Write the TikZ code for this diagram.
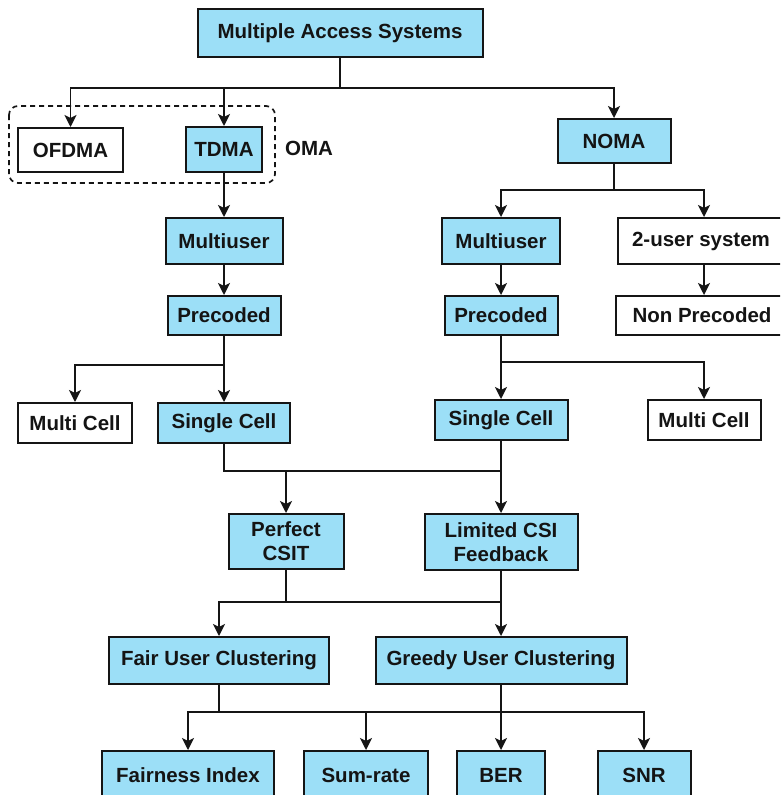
\documentclass[tikz,border=0pt]{standalone}
\usepackage{fontspec}
\setmainfont{Liberation Sans}
\usetikzlibrary{arrows.meta}
\definecolor{boxblue}{HTML}{9CDFF7}
\definecolor{edgecol}{HTML}{151515}
\tikzset{
  base/.style={draw=edgecol, line width=2pt, inner sep=0pt, align=center,
    font=\fontsize{20.5}{24}\selectfont\bfseries, text=black!92},
  bluebox/.style={base, fill=boxblue},
  whitebox/.style={base, fill=white},
  conn/.style={draw=edgecol, line width=1.8pt},
  arr/.style={conn, -{Stealth[length=12pt,width=12pt,inset=3pt]}},
}
\begin{document}
\begin{tikzpicture}[x=1pt,y=-1pt]
\useasboundingbox (0,0) rectangle (780,795);
\clip (0,0) rectangle (780,795);
\fill[white] (0,0) rectangle (780,795);

% nodes
\node[bluebox, minimum width=285pt, minimum height=48pt] (mas) at (340,33) {Multiple Access Systems};
\node[whitebox, minimum width=105pt, minimum height=44pt] (ofdma) at (70.5,150) {OFDMA};
\node[bluebox, minimum width=76pt, minimum height=45pt] (tdma) at (224,149.5) {TDMA};
\node[font=\fontsize{20.5}{24}\selectfont\bfseries, text=black!92] (oma) at (309,148) {OMA};
\node[bluebox, minimum width=113pt, minimum height=44pt] (noma) at (614,141) {NOMA};

\node[bluebox, minimum width=117pt, minimum height=46pt] (mu1) at (224,241) {Multiuser};
\node[bluebox, minimum width=113pt, minimum height=39pt] (pre1) at (224,315.5) {Precoded};
\node[whitebox, minimum width=114pt, minimum height=40pt] (mc1) at (75,423) {Multi Cell};
\node[bluebox, minimum width=132pt, minimum height=40pt] (sc1) at (224,423) {Single Cell};

\node[bluebox, minimum width=118pt, minimum height=46pt] (mu2) at (501,241) {Multiuser};
\node[whitebox, minimum width=172pt, minimum height=46pt] (two) at (704,241) {\hspace*{-6pt}2-user system};
\node[bluebox, minimum width=113pt, minimum height=39pt] (pre2) at (501,315.5) {Precoded};
\node[whitebox, minimum width=176pt, minimum height=39pt] (np) at (704,315.5) {\hspace*{-4pt}Non Precoded};
\node[bluebox, minimum width=133pt, minimum height=40pt] (sc2) at (501,420) {Single Cell};
\node[whitebox, minimum width=113pt, minimum height=40pt] (mc2) at (704,420) {Multi Cell};

\node[bluebox, minimum width=115pt, minimum height=55pt] (pcsit) at (286,541.5) {Perfect\\CSIT};
\node[bluebox, minimum width=153pt, minimum height=56pt] (lcsi) at (501,542) {Limited CSI\\Feedback};

\node[bluebox, minimum width=220pt, minimum height=47pt] (fair) at (219,660.5) {Fair User Clustering};
\node[bluebox, minimum width=251pt, minimum height=47pt] (greedy) at (501,660.5) {Greedy User Clustering};

\node[bluebox, minimum width=172pt, minimum height=48pt] (fi) at (188,775) {Fairness Index};
\node[bluebox, minimum width=124pt, minimum height=48pt] (sr) at (366,775) {Sum-rate};
\node[bluebox, minimum width=88pt, minimum height=48pt] (ber) at (501,775) {BER};
\node[bluebox, minimum width=93pt, minimum height=48pt] (snr) at (644,775) {SNR};

% OMA group
\draw[draw=edgecol, line width=1.7pt, dash pattern=on 5pt off 4pt, rounded corners=9pt] (9,106) rectangle (275,183);

% junctions
\coordinate (j0) at (340,88);
\coordinate (j1) at (224,365);
\coordinate (j2) at (614,190);
\coordinate (j3) at (501,362);
\coordinate (j4) at (501,471);
\coordinate (j4a) at (286,471);
\coordinate (j5) at (286,602);
\coordinate (j5b) at (501,602);
\coordinate (j6) at (219,712);
\coordinate (j6b) at (501,712);

% connectors
\draw[conn] (mas.south) -- (j0);
\draw[arr] (j0) -| (ofdma.north);
\draw[arr] (j0) -| (tdma.north);
\draw[arr] (j0) -| (noma.north);

\draw[arr] (tdma.south) -- (mu1.north);
\draw[arr] (mu1.south) -- (pre1.north);
\draw[arr] (pre1.south) -- (sc1.north);
\draw[arr] (j1) -| (mc1.north);

\draw[conn] (noma.south) -- (j2);
\draw[arr] (j2) -| (mu2.north);
\draw[arr] (j2) -| (two.north);
\draw[arr] (two.south) -- (np.north);
\draw[arr] (mu2.south) -- (pre2.north);
\draw[arr] (pre2.south) -- (sc2.north);
\draw[arr] (j3) -| (mc2.north);

\draw[conn] (sc1.south) |- (j4);
\draw[arr] (sc2.south) -- (lcsi.north);
\draw[arr] (j4a) -- (pcsit.north);

\draw[conn] (pcsit.south) -- (j5);
\draw[conn] (j5) -- (j5b);
\draw[arr] (j5) -| (fair.north);
\draw[arr] (lcsi.south) -- (greedy.north);

\draw[conn] (fair.south) -- (j6);
\draw[arr] (j6) -| (fi.north);
\draw[arr] (j6) -| (sr.north);
\draw[arr] (j6b) -| (snr.north);
\draw[conn] (j6) -- (j6b);
\draw[arr] (greedy.south) -- (ber.north);
\end{tikzpicture}
\end{document}
